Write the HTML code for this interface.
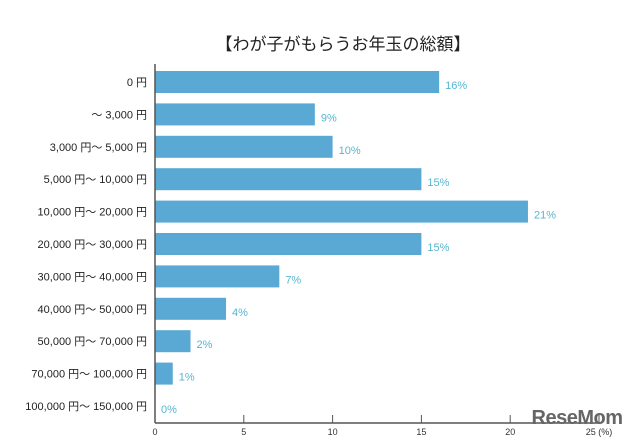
<!DOCTYPE html>
<html><head><meta charset="utf-8"><style>
body{margin:0;background:#fff;}
svg{display:block;font-family:"Liberation Sans","Noto Sans CJK JP",sans-serif;}
</style></head><body>
<svg width="640" height="439" viewBox="0 0 640 439">
<text x="343" y="50" text-anchor="middle" font-size="17" fill="#222">【わが子がもらうお年玉の総額】</text>
<g id="bars"></g>
<line x1="155" y1="64" x2="155" y2="423" stroke="#555" stroke-width="1.5"/>
<line x1="155" y1="423" x2="600" y2="423" stroke="#555" stroke-width="1.5"/>
<g id="ticks"></g>
<text x="577" y="424" text-anchor="middle" font-size="20" font-weight="bold" fill="#666" letter-spacing="-0.5">ReseMom</text>
</svg>
<script>
const categories=["0 円","～ 3,000 円","3,000 円～ 5,000 円","5,000 円～ 10,000 円","10,000 円～ 20,000 円","20,000 円～ 30,000 円","30,000 円～ 40,000 円","40,000 円～ 50,000 円","50,000 円～ 70,000 円","70,000 円～ 100,000 円","100,000 円～ 150,000 円"];
const values=[16,9,10,15,21,15,7,4,2,1,0];
const tickValues=[0,5,10,15,20,25];
const tickLabels=["0","5","10","15","20","25 (%)"];
const NS="http://www.w3.org/2000/svg";
function x(v){return 155+v*17.76;}
function yTop(i){return 71+i*32.4;}
const bg=document.getElementById('bars');
categories.forEach((c,i)=>{
  const y=yTop(i);
  const t=document.createElementNS(NS,'text');
  
  
  t.setAttribute('x',147);t.setAttribute('y',y+15);t.setAttribute('text-anchor','end');
  t.setAttribute('font-size','11');t.setAttribute('fill','#222');t.textContent=c;bg.appendChild(t);
  if(values[i]>0){
    const r=document.createElementNS(NS,'rect');
    
    
    r.setAttribute('x',155);r.setAttribute('y',y);r.setAttribute('width',x(values[i])-155);r.setAttribute('height',22);
    r.setAttribute('fill','#5aa9d5');bg.appendChild(r);
  }
  const v=document.createElementNS(NS,'text');
  
  
  v.setAttribute('x',x(values[i])+6);v.setAttribute('y',y+18);
  v.setAttribute('font-size','11');v.setAttribute('fill','#55b6cf');v.textContent=values[i]+'%';bg.appendChild(v);
});
const tg=document.getElementById('ticks');
tickValues.forEach((tv,i)=>{
  if(tv>0){
    const l=document.createElementNS(NS,'line');
    
    
    l.setAttribute('x1',x(tv));l.setAttribute('x2',x(tv));l.setAttribute('y1',415);l.setAttribute('y2',423);
    l.setAttribute('stroke','#555');tg.appendChild(l);
  }
  const t=document.createElementNS(NS,'text');
  
  
  t.setAttribute('x',x(tv));t.setAttribute('y',435);t.setAttribute('text-anchor','middle');
  t.setAttribute('font-size','9');t.setAttribute('fill','#333');t.textContent=tickLabels[i];tg.appendChild(t);
});
</script>
</body></html>
